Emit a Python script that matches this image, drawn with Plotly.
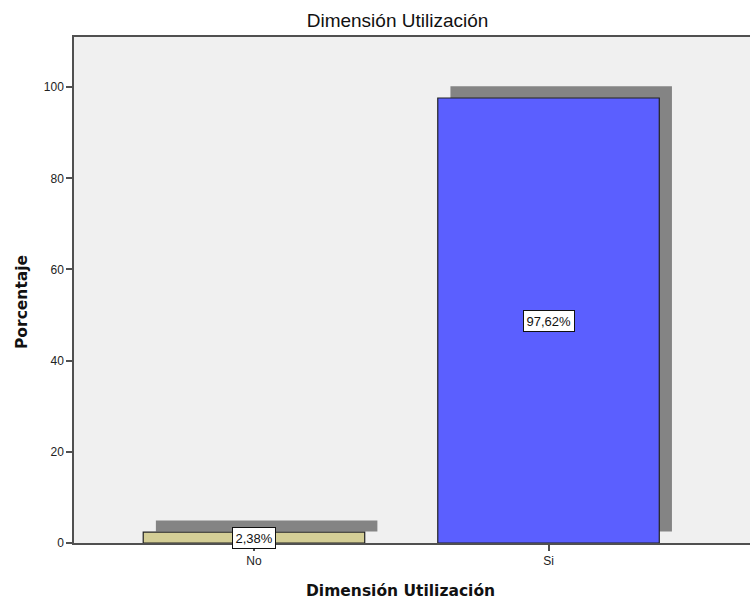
import plotly.graph_objects as go

categories = ["No", "Si"]
values = [2.38, 97.62]
labels = ["2,38%", "97,62%"]
bar_colors = ["#D4CE96", "#5B5FFF"]
y_ticks = [0, 20, 40, 60, 80, 100]

BAR_W = 0.752
SH_DX = 0.043
SH_BASE = 2.55

fig = go.Figure()
# shadows
fig.add_trace(go.Bar(
    x=categories, y=values, base=[SH_BASE] * len(values),
    width=[BAR_W] * len(values), offset=[-BAR_W / 2 + SH_DX] * len(values),
    marker=dict(color="#848484", line=dict(width=0)),
    hoverinfo="skip", showlegend=False,
))
# bars
fig.add_trace(go.Bar(
    x=categories, y=values,
    width=[BAR_W] * len(values), offset=[-BAR_W / 2] * len(values),
    marker=dict(color=bar_colors, line=dict(color="#222222", width=1.2)),
    showlegend=False,
))

for c, v, t in zip(categories, values, labels):
    fig.add_annotation(
        x=c, y=v / 2, text=t, showarrow=False,
        font=dict(family="Liberation Sans, Arial", size=13, color="#111111"),
        bgcolor="white", bordercolor="#111111", borderwidth=1, borderpad=2.5,
    )

# axis titles
fig.add_annotation(
    xref="paper", yref="paper", x=(400 - 74) / 676, y=-(591 - 543) / 506,
    text="<b>Dimensión Utilización</b>", showarrow=False,
    xanchor="center", yanchor="middle",
    font=dict(family="DejaVu Sans", size=15.5, color="#111111"),
)
fig.add_annotation(
    xref="paper", yref="paper", x=-(74 - 22) / 676, y=(543 - 302) / 506,
    text="<b>Porcentaje</b>", showarrow=False, textangle=-90,
    xanchor="center", yanchor="middle",
    font=dict(family="DejaVu Sans", size=15.5, color="#111111"),
)

fig.update_layout(
    width=750, height=601,
    margin=dict(l=74, r=0, t=37, b=58),
    paper_bgcolor="white", plot_bgcolor="#F0F0F0",
    barmode="overlay",
    title=dict(text="Dimensión Utilización", x=0.53, xanchor="center",
               y=0.966, yanchor="middle",
               font=dict(family="Liberation Sans Narrow, Liberation Sans, Arial", size=19,
                         color="#111111")),
    font=dict(family="Liberation Sans, Arial", size=12, color="#222222"),
)
fig.update_xaxes(
    range=[-0.611, 1.684], showgrid=False, zeroline=False,
    showline=True, linecolor="#505050", linewidth=1.5, mirror=True,
    ticks="outside", ticklen=6, tickcolor="#505050", tickwidth=1.5,
    tickfont=dict(size=12, color="#222222"),
)
fig.update_yaxes(
    range=[0, 111], tickvals=y_ticks, showgrid=False, zeroline=False,
    showline=True, linecolor="#505050", linewidth=1.5,
    ticks="outside", ticklen=6, tickcolor="#505050", tickwidth=1.5,
    tickfont=dict(size=12, color="#222222"),
)

fig.write_html("out.html")
